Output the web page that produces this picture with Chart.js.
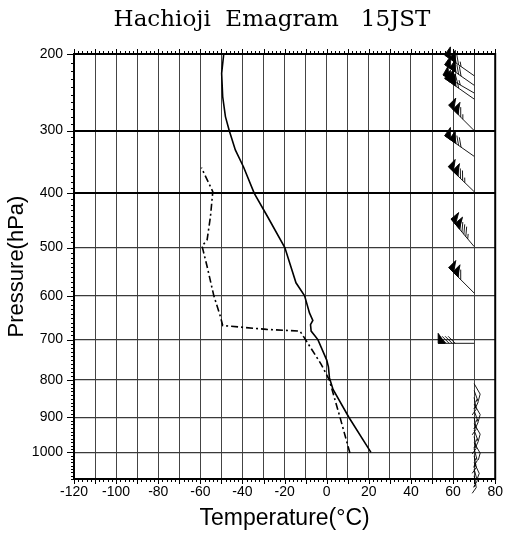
<!DOCTYPE html>
<html>
<head>
<meta charset="utf-8">
<script src="https://cdn.jsdelivr.net/npm/chart.js@4.4.0/dist/chart.umd.min.js"></script>
<style>
body { margin: 0; background: #fff; }
canvas { display: block; }
</style>
</head>
<body>
<canvas id="emagram" width="508" height="534"></canvas>
<script>
// temperature profile (hPa, degC)
const tempP = [1000, 900, 825, 795, 767, 750, 700, 680, 665, 655, 638, 600, 572, 500, 442, 400, 356, 329, 300, 280, 253, 223, 200];
const tempT = [21, 10.5, 3, 1.3, 0.8, 0, -4.2, -7.4, -7.7, -6.6, -8.2, -10.5, -14.6, -19.9, -28, -34.4, -39.5, -43.4, -46.3, -48.1, -49.4, -49.9, -48.9];

// dew point profile
const dewP = [1002, 900, 800, 760, 696, 680, 676, 667, 646, 600, 538, 524, 497, 485, 441, 397, 357];
const dewT = [11, 6.3, 1.2, -2.7, -10.6, -12.7, -28.5, -49.4, -50.5, -53.6, -56.8, -57.6, -59.2, -56.8, -55.2, -54.1, -59.5];

// winds (hPa, kt, deg from)
const windP = [226, 238, 248, 256, 300, 339, 397, 498, 594, 709,
  810, 828, 846, 864, 882, 900, 918, 936, 954, 972, 990, 1010, 1030, 1050, 1070];
const windSpd = [125, 130, 125, 115, 125, 130, 135, 145, 120, 90,
  10, 15, 15, 10, 15, 15, 10, 15, 15, 10, 15, 15, 10, 15, 15];
const windDir = [305, 305, 300, 305, 315, 305, 314, 320, 315, 270,
  150, 160, 170, 150, 160, 170, 150, 160, 170, 150, 165, 170, 155, 165, 170];
const windAt = 70; // column where barbs are planted (degC)

const xTicks = [-120, -110, -100, -90, -80, -70, -60, -50, -40, -30, -20, -10, 0, 10, 20, 30, 40, 50, 60, 70, 80];
const pTicks = [200, 300, 400, 500, 600, 700, 800, 900, 1000];

const titleText = 'Hachioji  Emagram   15JST';
const PK = 0.42;

class PowScale extends Chart.LinearScale {
  getPixelForValue(v) {
    if (v === null || v === undefined) return NaN;
    const a = Math.pow(this.min, PK), b = Math.pow(this.max, PK);
    return this.getPixelForDecimal((Math.pow(v, PK) - a) / (b - a));
  }
  getValueForPixel(px) {
    const a = Math.pow(this.min, PK), b = Math.pow(this.max, PK);
    return Math.pow(a + this.getDecimalForPixel(px) * (b - a), 1 / PK);
  }
}
PowScale.id = 'pow';
PowScale.defaults = Chart.LinearScale.defaults;
Chart.register(PowScale);

function drawBarb(ctx, x0, y0, spd, dir) {
  const strong = spd >= 50;
  const len = strong ? 36 : 12;
  const F = strong ? 10 : 7;
  const r = dir * Math.PI / 180;
  const a = Math.sin(r), b = Math.cos(r);
  const sx = a, sy = -b;
  const c = Math.SQRT1_2;
  // feathers lean 45 deg clockwise from the staff
  const fx = a * c + b * c, fy = -(-a * c + b * c);
  // pennants stand square to the staff
  const qx = b, qy = a;
  const pt = d => [x0 + sx * d, y0 + sy * d];
  ctx.beginPath();
  ctx.moveTo(x0, y0);
  ctx.lineTo(...pt(len));
  ctx.stroke();
  let s = Math.round(spd / 5) * 5;
  let d = len;
  const w = 7;
  while (s >= 50) {
    const p0 = pt(d), p1 = pt(d - w);
    ctx.beginPath();
    ctx.moveTo(p0[0], p0[1]);
    ctx.lineTo(p0[0] + qx * 10, p0[1] + qy * 10);
    ctx.lineTo(p1[0], p1[1]);
    ctx.closePath();
    ctx.fill();
    ctx.stroke();
    d -= w - 1;
    s -= 50;
  }
  if (d < len) d -= 2;
  while (s >= 10) {
    const p0 = pt(d);
    ctx.beginPath();
    ctx.moveTo(p0[0], p0[1]);
    ctx.lineTo(p0[0] + fx * F, p0[1] + fy * F);
    ctx.stroke();
    d -= 3;
    s -= 10;
  }
  if (s >= 5) {
    const p0 = pt(d);
    ctx.beginPath();
    ctx.moveTo(p0[0], p0[1]);
    ctx.lineTo(p0[0] + fx * F / 2, p0[1] + fy * F / 2);
    ctx.stroke();
  }
}

const decor = {
  id: 'decor',
  afterDatasetsDraw(chart) {
    const {ctx, scales: {x, y}} = chart;
    ctx.save();
    ctx.strokeStyle = '#000';
    ctx.fillStyle = '#000';
    ctx.lineWidth = 0.9;
    const bx = x.getPixelForValue(windAt);
    windP.forEach((p, i) => drawBarb(ctx, bx, y.getPixelForValue(p), windSpd[i], windDir[i]));
    ctx.restore();
  },
  afterDraw(chart) {
    const {ctx, chartArea: a, scales: {x, y}} = chart;
    ctx.save();
    ctx.strokeStyle = '#000';
    ctx.lineWidth = 1;
    ctx.beginPath();
    for (let t = x.min; t <= x.max; t += 2) {
      const px = Math.round(x.getPixelForValue(t)) + 0.5;
      const l = t % 10 === 0 ? 5 : 3;
      ctx.moveTo(px, a.top); ctx.lineTo(px, a.top - l);
      ctx.moveTo(px, a.bottom); ctx.lineTo(px, a.bottom + l);
    }
    for (let p = y.min; p <= y.max; p += 10) {
      const py = Math.round(y.getPixelForValue(p)) + 0.5;
      const l = p % 100 === 0 ? 7 : 3;
      ctx.moveTo(a.left, py); ctx.lineTo(a.left - l, py);
    }
    ctx.stroke();
    ctx.lineWidth = 2;
    ctx.strokeRect(a.left, a.top, a.right - a.left, a.bottom - a.top);
    ctx.fillStyle = '#000';
    ctx.font = '23px "DejaVu Serif"';
    ctx.textAlign = 'center';
    ctx.textBaseline = 'alphabetic';
    ctx.fillText(titleText, 272, 26);
    ctx.restore();
  }
};

const sans = '"Liberation Sans", Arial, sans-serif';

new Chart(document.getElementById('emagram'), {
  type: 'scatter',
  data: {
    datasets: [{
      data: tempP.map((p, i) => ({x: tempT[i], y: p})),
      showLine: true,
      borderColor: '#000',
      borderWidth: 1.6,
      pointRadius: 0
    }, {
      data: dewP.map((p, i) => ({x: dewT[i], y: p})),
      showLine: true,
      borderColor: '#000',
      borderWidth: 1.6,
      borderDash: [7, 3, 2, 3],
      pointRadius: 0
    }]
  },
  options: {
    responsive: false,
    animation: false,
    layout: {padding: {top: 54, right: 9, left: 0, bottom: 0}, autoPadding: false},
    plugins: {legend: {display: false}, tooltip: {enabled: false}},
    scales: {
      x: {
        type: 'linear',
        min: -120,
        max: 80,
        afterBuildTicks: s => { s.ticks = xTicks.map(v => ({value: v})); },
        afterFit: s => { s.height = 55; },
        border: {display: false},
        grid: {
          drawTicks: false,
          color: c => (c.tick.value === -120 || c.tick.value === 80) ? 'rgba(0,0,0,0)' : '#444',
          lineWidth: 1
        },
        ticks: {
          autoSkip: false,
          maxRotation: 0,
          padding: 5,
          color: '#000',
          font: {family: sans, size: 14},
          callback: v => v % 20 === 0 ? String(v) : ''
        },
        title: {
          display: true,
          text: 'Temperature(°C)',
          color: '#000',
          font: {family: sans, size: 23},
          padding: {top: 0, bottom: 2}
        }
      },
      y: {
        type: 'pow',
        min: 200,
        max: 1080,
        reverse: true,
        afterBuildTicks: s => { s.ticks = pTicks.map(v => ({value: v})); },
        afterFit: s => { s.width = 74; },
        border: {display: false},
        grid: {
          drawTicks: false,
          color: c => c.tick.value === 200 ? 'rgba(0,0,0,0)' : (c.tick.value <= 400 ? '#000' : '#3a3a3a'),
          lineWidth: c => c.tick.value <= 400 ? 2 : 1.3
        },
        ticks: {
          autoSkip: false,
          padding: 11,
          color: '#000',
          font: {family: sans, size: 14},
          callback: v => String(v)
        },
        title: {
          display: true,
          text: 'Pressure(hPa)',
          color: '#000',
          font: {family: sans, size: 22},
          padding: {top: 4, bottom: 0}
        }
      }
    }
  },
  plugins: [decor]
});
</script>
</body>
</html>
